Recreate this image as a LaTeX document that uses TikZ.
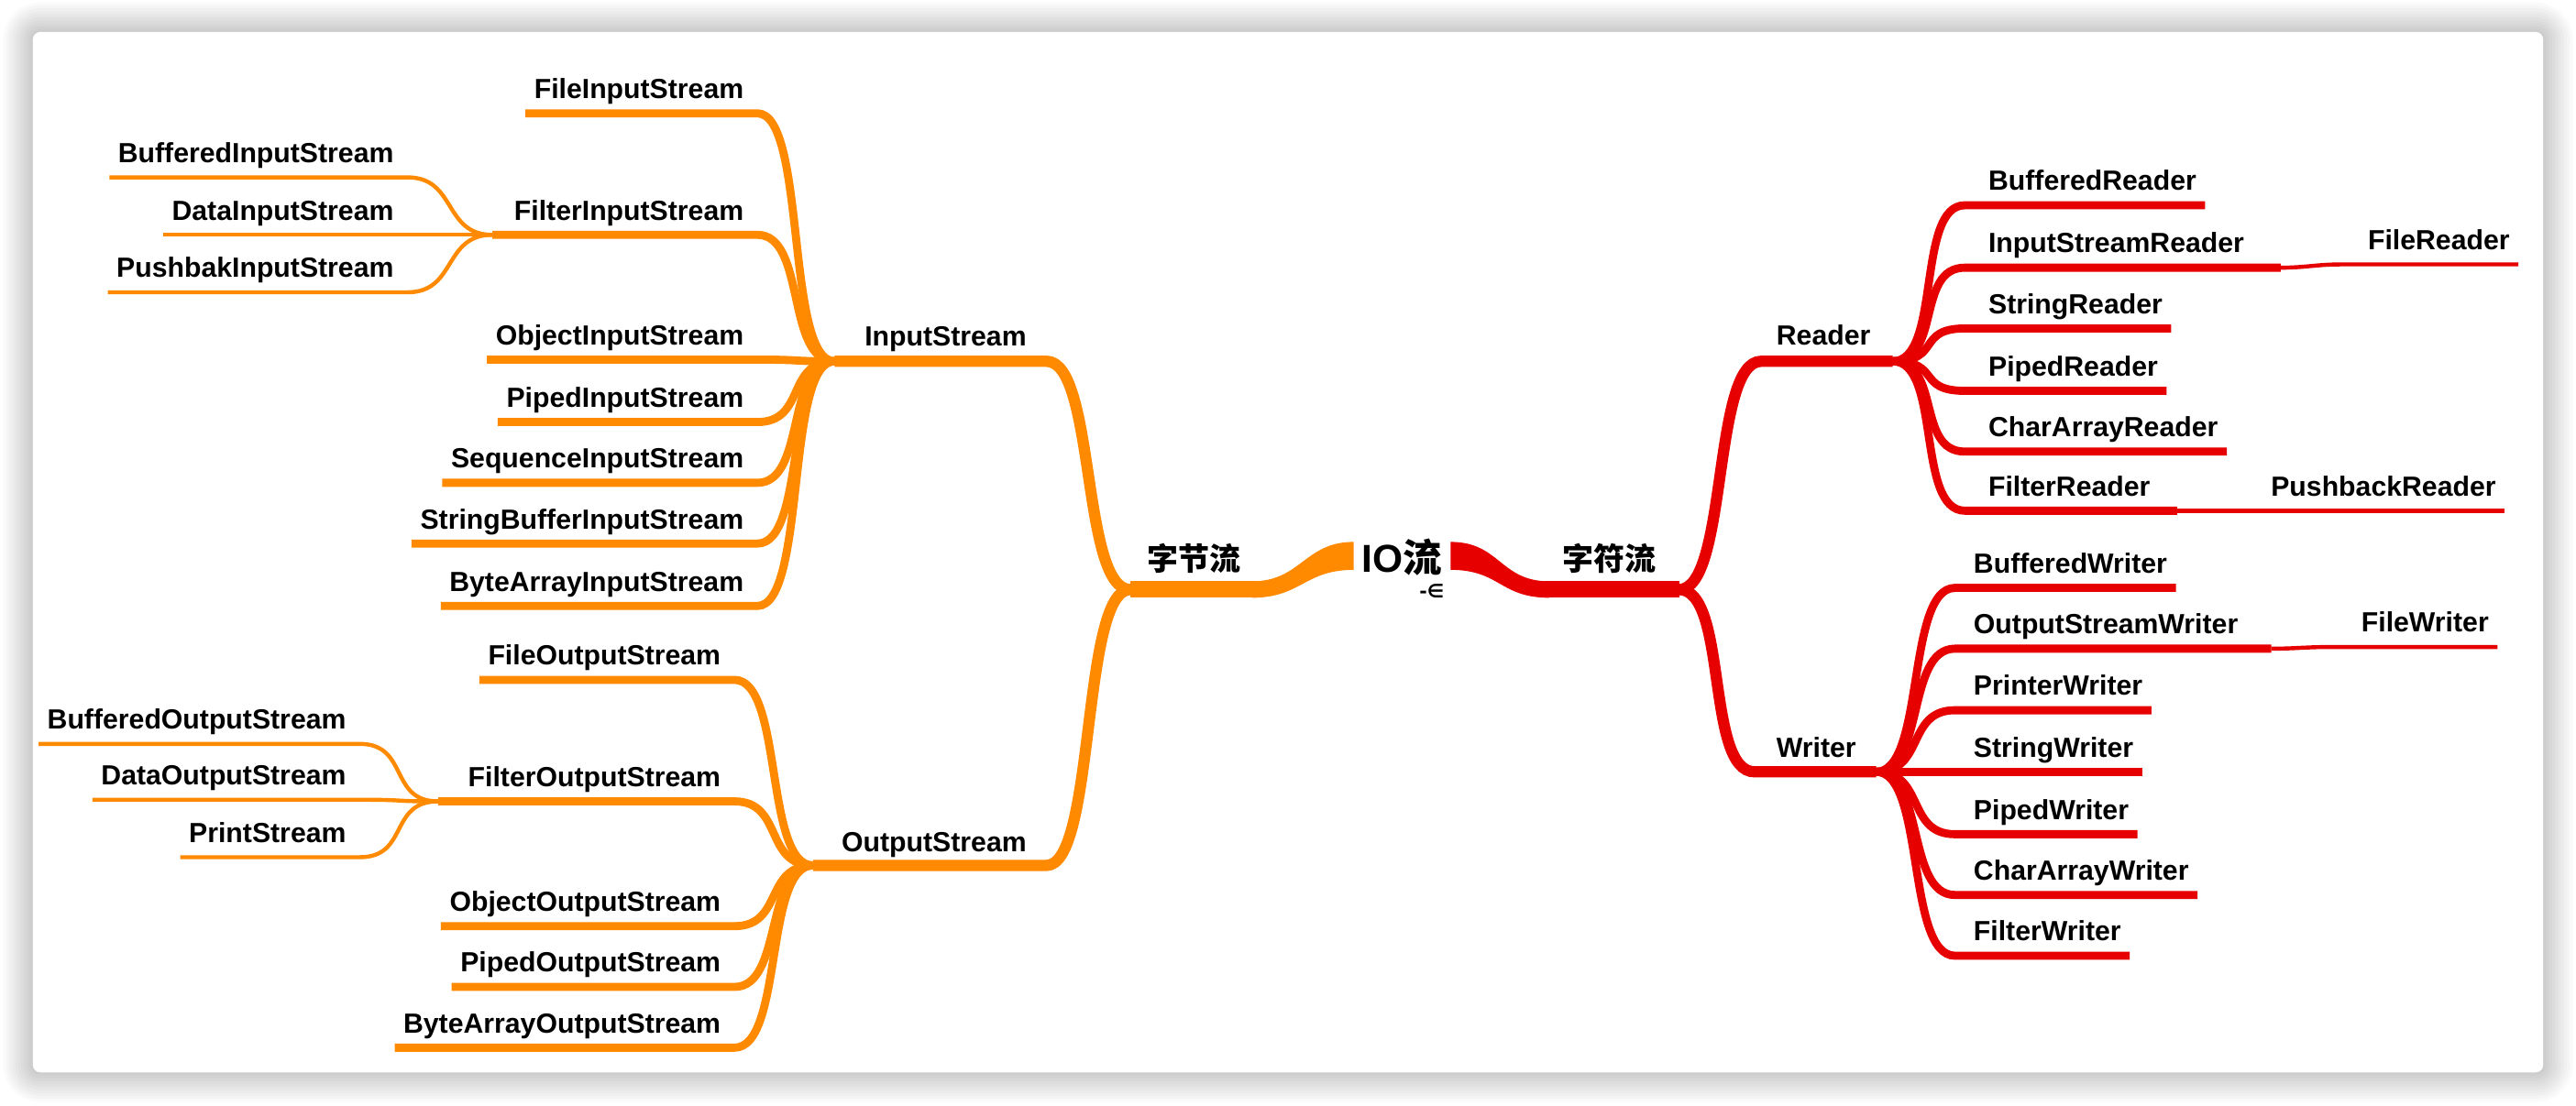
\documentclass[tikz,border=0pt]{standalone}
\usepackage{fontspec}
\setmainfont{Liberation Sans}
\newfontfamily\cjk{Noto Sans CJK SC}
\newfontfamily\dejavu{DejaVu Sans}
\usetikzlibrary{calc}
\definecolor{orng}{HTML}{FF8A00}
\definecolor{rd}{HTML}{E60000}
\tikzset{
  lab/.style={inner sep=0pt, font=\fontsize{9.6}{11}\selectfont\bfseries, text=black},
  cjklab/.style={inner sep=0pt, font=\cjk\fontsize{10.8}{12}\selectfont\bfseries, text=black},
  lone/.style={line width=5.7pt},
  ltwo/.style={line width=3.9pt},
  lthree/.style={line width=2.8pt},
  lfour/.style={line width=1.4pt}
}
\newcommand\LLeaf[6]{%
  \node[lab, anchor=base east] (#1) at (#3,#4-9) {#2};
  \draw[#6] ($(#1.base west)+(-5,9)$) -- ($(#1.base east)+(8,9)$) .. controls +(30,0) and +(-30,0) .. (#5);}
\newcommand\RLeaf[7]{%
  \node[lab, anchor=base west] (#1) at (#3,#4-9) {#2};
  \draw[#6] (#5) .. controls +(30,0) and +(-30,0) .. ($(#1.base west)+(#7,9)$) -- ($(#1.base east)+(5,9)$);}
\begin{document}
\begin{tikzpicture}[x=0.02cm,y=-0.02cm]
\useasboundingbox (0,0) rectangle (1568,673);
\fill[white] (0,0) rectangle (1568,673);
\foreach \k in {1,...,10}{
  \pgfmathsetmacro\rr{(4.5+1.8*\k)*0.5669}
  \fill[black, opacity=0.018, rounded corners=\rr pt] ({20-1.8*\k},{19.5-1.8*\k}) rectangle ({1548+1.8*\k},{653+1.8*\k});
}
\fill[white, rounded corners=2.55pt] (20,19.5) rectangle (1548,653);

% ---------- root ----------
\node[inner sep=0pt, font=\fontsize{13.5}{15}\selectfont\bfseries] (io) at (853.5,339.5) {IO{\cjk 流}};
\node[inner sep=0pt, font={\dejavu\fontsize{6.5}{7}\selectfont\bfseries}] (ioicon) at (871.5,360) {-∈};
\coordinate (ioL) at (824,338.5);
\coordinate (ioR) at (883,338.5);

% ---------- left: byte streams ----------
\coordinate (oL) at (765,359);
\coordinate (oH) at (688,359);
\node[cjklab] (zj) at (727,340) {字节流};
\fill[orng] ($(ioL)+(0,-8.5)$) .. controls +(-30,0) and +(30,0) .. ($(oL)+(-3,-5)$) -- ($(oL)+(-3,5)$) .. controls +(30,0) and +(-30,0) .. ($(ioL)+(0,8.5)$) -- cycle;
\draw[orng,lone] (oL) -- (oH);

\coordinate (isH) at (508,220);
\coordinate (isE) at (637,220);
\node[lab, anchor=base west] (is) at (526,210.5) {InputStream};
\draw[orng,ltwo] (isH) -- (isE) .. controls +(30,0) and +(-30,0) .. (oH);

\coordinate (osH) at (495,527);
\coordinate (osE) at (637,527);
\node[lab, anchor=base west] (os) at (512,518.5) {OutputStream};
\draw[orng,ltwo] (osH) -- (osE) .. controls +(30,0) and +(-30,0) .. (oH);

\LLeaf{fis}{FileInputStream}{453}{69}{isH}{orng,lthree}
\node[lab, anchor=base east] (fltis) at (453,134) {FilterInputStream};
\coordinate (fiH) at ($(fltis.base west)+(-13,9)$);
\draw[orng,lthree] (fiH) -- ($(fltis.base east)+(8,9)$) .. controls +(30,0) and +(-30,0) .. (isH);
\LLeaf{ois}{ObjectInputStream}{453}{219}{isH}{orng,lthree}
\LLeaf{pis}{PipedInputStream}{453}{257}{isH}{orng,lthree}
\LLeaf{sis}{SequenceInputStream}{453}{294}{isH}{orng,lthree}
\LLeaf{sbis}{StringBufferInputStream}{453}{331}{isH}{orng,lthree}
\LLeaf{bais}{ByteArrayInputStream}{453}{369}{isH}{orng,lthree}

\LLeaf{bis}{BufferedInputStream}{240}{108}{fiH}{orng,lfour}
\LLeaf{dis}{DataInputStream}{240}{143}{fiH}{orng,lfour}
\LLeaf{pbis}{PushbakInputStream}{240}{178}{fiH}{orng,lfour}

\LLeaf{fos}{FileOutputStream}{439}{414}{osH}{orng,lthree}
\node[lab, anchor=base east] (fltos) at (439,479) {FilterOutputStream};
\coordinate (foH) at ($(fltos.base west)+(-18,9)$);
\draw[orng,lthree] (foH) -- ($(fltos.base east)+(8,9)$) .. controls +(30,0) and +(-30,0) .. (osH);
\LLeaf{oos}{ObjectOutputStream}{439}{564}{osH}{orng,lthree}
\LLeaf{pos}{PipedOutputStream}{439}{601}{osH}{orng,lthree}
\LLeaf{baos}{ByteArrayOutputStream}{439}{638}{osH}{orng,lthree}

\LLeaf{bos}{BufferedOutputStream}{211}{453}{foH}{orng,lfour}
\LLeaf{dos}{DataOutputStream}{211}{487}{foH}{orng,lfour}
\LLeaf{ps}{PrintStream}{211}{522}{foH}{orng,lfour}

% ---------- right: character streams ----------
\coordinate (rL) at (940,359);
\coordinate (rJ) at (1022,359);
\node[cjklab] (zf) at (979.5,340) {字符流};
\fill[rd] ($(ioR)+(0,-8.5)$) .. controls +(30,0) and +(-30,0) .. ($(rL)+(3,-5)$) -- ($(rL)+(3,5)$) .. controls +(-30,0) and +(30,0) .. ($(ioR)+(0,8.5)$) -- cycle;
\draw[rd,lone] (rL) -- (rJ);

\coordinate (rS) at (1072,220);
\coordinate (rH) at (1152,220);
\node[lab, anchor=base west] (rdr) at (1081,210) {Reader};
\draw[rd,ltwo] (rJ) .. controls +(30,0) and +(-30,0) .. (rS) -- (rH);

\coordinate (wS) at (1068,470);
\coordinate (wH) at (1142,470);
\node[lab, anchor=base west] (wtr) at (1081,461) {Writer};
\draw[rd,ltwo] (rJ) .. controls +(30,0) and +(-30,0) .. (wS) -- (wH);

\RLeaf{br}{BufferedReader}{1210}{125}{rH}{rd,lthree}{-14}
\node[lab, anchor=base west] (isr) at (1210,154) {InputStreamReader};
\coordinate (isrH) at ($(isr.base east)+(22,9)$);
\draw[rd,lthree] (rH) .. controls +(30,0) and +(-30,0) .. ($(isr.base west)+(-14,9)$) -- (isrH);
\node[lab, anchor=base west] (fr) at (1441,152) {FileReader};
\draw[rd,lfour] (isrH) .. controls +(15,0) and +(-15,0) .. ($(fr.base west)+(-16,9)$) -- ($(fr.base east)+(5,9)$);
\RLeaf{sr}{StringReader}{1210}{200}{rH}{rd,lthree}{-14}
\RLeaf{pr}{PipedReader}{1210}{238}{rH}{rd,lthree}{-14}
\RLeaf{car}{CharArrayReader}{1210}{275}{rH}{rd,lthree}{-14}
\node[lab, anchor=base west] (fltr) at (1210,302) {FilterReader};
\coordinate (frH) at ($(fltr.base east)+(16,9)$);
\draw[rd,lthree] (rH) .. controls +(30,0) and +(-30,0) .. ($(fltr.base west)+(-14,9)$) -- (frH);
\node[lab, anchor=base west] (pbr) at (1382,302) {PushbackReader};
\draw[rd,lfour] (frH) .. controls +(15,0) and +(-15,0) .. ($(pbr.base west)+(-20,9)$) -- ($(pbr.base east)+(5,9)$);

\RLeaf{bw}{BufferedWriter}{1201}{358}{wH}{rd,lthree}{-11}
\node[lab, anchor=base west] (osw) at (1201,386) {OutputStreamWriter};
\coordinate (oswH) at ($(osw.base east)+(20,9)$);
\draw[rd,lthree] (wH) .. controls +(30,0) and +(-30,0) .. ($(osw.base west)+(-11,9)$) -- (oswH);
\node[lab, anchor=base west] (fw) at (1437,385) {FileWriter};
\draw[rd,lfour] (oswH) .. controls +(15,0) and +(-15,0) .. ($(fw.base west)+(-19,9)$) -- ($(fw.base east)+(5,9)$);
\RLeaf{prw}{PrinterWriter}{1201}{432.5}{wH}{rd,lthree}{-11}
\RLeaf{sw}{StringWriter}{1201}{470}{wH}{rd,lthree}{-11}
\RLeaf{pw}{PipedWriter}{1201}{508}{wH}{rd,lthree}{-11}
\RLeaf{caw}{CharArrayWriter}{1201}{545}{wH}{rd,lthree}{-11}
\RLeaf{fltw}{FilterWriter}{1201}{582}{wH}{rd,lthree}{-11}
\end{tikzpicture}
\end{document}
